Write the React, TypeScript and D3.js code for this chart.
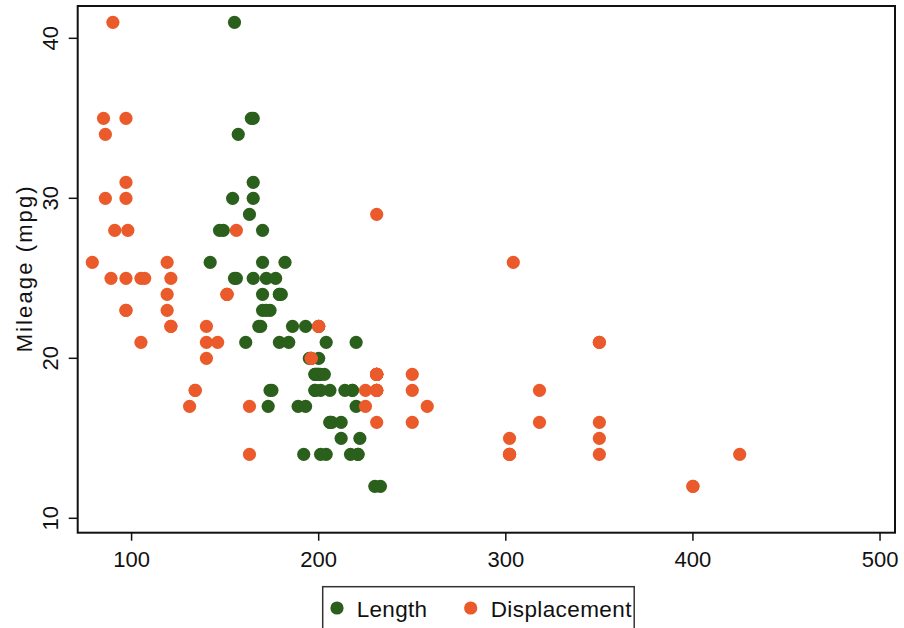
import React from "react";
import * as d3 from "d3";

const mpg = [22,17,22,20,15,18,26,20,16,19,14,14,21,29,16,22,22,24,19,30,18,16,17,28,21,12,12,14,22,14,15,18,14,20,21,19,19,18,19,24,16,28,34,25,26,18,18,18,19,19,19,24,17,23,25,23,35,24,21,21,25,28,30,14,26,35,18,31,18,23,41,25,25,17];
const lengthVals = [186,173,168,196,222,218,170,200,207,200,221,204,204,163,212,193,200,179,199,165,206,206,220,147,179,233,230,201,169,221,212,198,217,195,220,198,198,218,200,180,206,170,157,165,182,201,214,198,201,199,203,179,189,174,177,170,165,170,184,161,172,149,154,192,142,164,174,165,175,172,155,155,156,193];
const displacementVals = [121,258,121,196,350,231,304,196,231,231,425,350,350,231,250,200,200,151,250,97,318,318,225,98,140,400,400,302,140,302,302,250,302,140,350,231,231,231,231,151,350,156,86,105,119,225,231,231,231,231,231,151,131,97,121,119,85,119,146,105,107,91,86,163,79,97,134,97,134,97,90,89,97,163];
const xTicks = [100, 200, 300, 400, 500];
const yTicks = [10, 20, 30, 40];
const seriesNames = ["Length", "Displacement"];
const colors = ["#2b5f1c", "#ea5a2b"];

export default function App() {
  const W = 904, H = 628;
  const left = 77.7, right = 895, top = 6, bottom = 532.7;
  const x = d3.scaleLinear().domain([71.2, 508]).range([left, right]);
  const y = d3.scaleLinear().domain([9.1, 42.02]).range([bottom, top]);
  const font = "'Liberation Sans', Arial, Helvetica, sans-serif";
  const series = [lengthVals, displacementVals];
  return (
    <svg width={W} height={H} style={{ position: "absolute", left: 0, top: 0, background: "#fff" }} fontFamily={font}>
      <rect x={0} y={0} width={W} height={H} fill="#fff" />
      {series.map((vals, si) => (
        <g key={si} fill={colors[si]}>
          {vals.map((v, i) => (
            <circle key={i} cx={x(v)} cy={y(mpg[i])} r={6.6} />
          ))}
        </g>
      ))}
      <rect x={left} y={top} width={right - left} height={bottom - top} fill="none" stroke="#111" strokeWidth={2} />
      {xTicks.map((t) => (
        <g key={t}>
          <line x1={x(t)} x2={x(t)} y1={bottom} y2={bottom + 8} stroke="#111" strokeWidth={1.5} />
          <text x={x(t)} y={567} textAnchor="middle" fontSize={22} fill="#111">{t}</text>
        </g>
      ))}
      {yTicks.map((t) => (
        <g key={t}>
          <line x1={left - 9} x2={left} y1={y(t)} y2={y(t)} stroke="#111" strokeWidth={1.5} />
          <text transform={`translate(58,${y(t)}) rotate(-90)`} textAnchor="middle" fontSize={22} fill="#111">{t}</text>
        </g>
      ))}
      <text transform={`translate(32,${(top + bottom) / 2}) rotate(-90)`} textAnchor="middle" fontSize={22} textLength={166} lengthAdjust="spacing" fill="#111">Mileage (mpg)</text>
      <rect x={322.7} y={586.7} width={311.5} height={60} fill="#fff" stroke="#333" strokeWidth={1.5} />
      <circle cx={337} cy={608} r={6.6} fill={colors[0]} />
      <text x={356.7} y={616.5} fontSize={22.5} letterSpacing={0.3} fill="#111">{seriesNames[0]}</text>
      <circle cx={470.7} cy={608} r={6.6} fill={colors[1]} />
      <text x={490.7} y={616.5} fontSize={22.5} letterSpacing={0.4} fill="#111">{seriesNames[1]}</text>
    </svg>
  );
}
